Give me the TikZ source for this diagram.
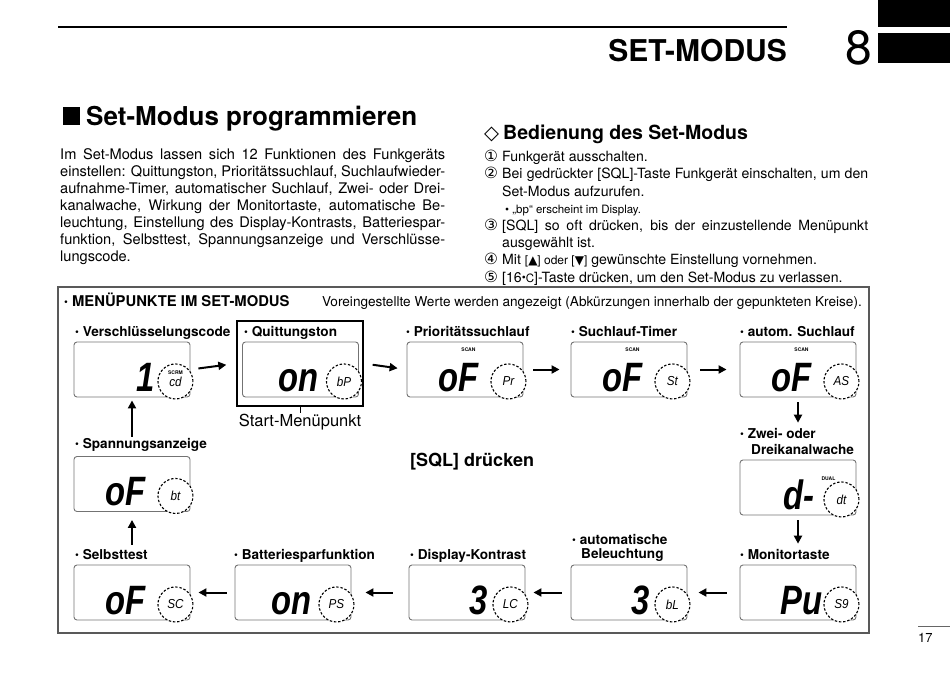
\documentclass[tikz,border=0pt]{standalone}
\usepackage{fontspec}
\usepackage{graphicx}
\setmainfont{TeX Gyre Heros}
\newfontfamily\djv{DejaVu Sans}
\newfontfamily\lcdf{Liberation Sans}
\usetikzlibrary{arrows.meta,calc}
\newcommand\bul{\raisebox{0.5pt}{\fontsize{11}{11}\selectfont•}}
\newcommand\cnum[1]{\makebox[18pt][l]{\fontsize{15.5}{15}\djv #1}}
\newcommand\lcdp[5]{%
  \node[lcd] (#1) at #2 {};
  \node[dcirc] (#1c) at ([xshift=-15pt,yshift=16pt]#1.south east) {\scalebox{0.9}[1]{#5}};
  \node[big] (#1t) at ([xshift=-#4,yshift=6pt]#1.south east) {\scalebox{0.8}[1]{#3}};
}
\begin{document}
\begin{tikzpicture}[x=1pt,y=-1pt,
  lcd/.style={draw=black!55, line width=0.9pt, rounded corners=3pt, minimum width=116pt, minimum height=55pt, inner sep=0pt},
  dcirc/.style={circle, draw=black, fill=white, dash pattern=on 2.4pt off 1.8pt, line width=1.1pt, minimum size=35pt, inner sep=0pt, font=\fontsize{13}{13}\lcdf\itshape},
  arr/.style={line width=2pt, -{Triangle[length=8pt,width=8pt]}},
  lab/.style={font=\fontsize{13.6}{15}\selectfont\bfseries, anchor=base west, inner sep=0pt},
  big/.style={font=\fontsize{41}{41}\lcdf\bfseries\itshape, anchor=base east, inner sep=0pt},
  tiny/.style={font=\fontsize{5}{5}\selectfont\bfseries, inner sep=0pt},
]
\useasboundingbox (0,0) rectangle (950,672);

% page header
\draw[line width=1.5pt] (58,27) -- (787,27);
\node[anchor=base east, inner sep=0pt, font=\fontsize{30}{30}\selectfont\bfseries] (hd) at (787,61) {SET-MODUS};
\node[anchor=base west, inner sep=0pt, font=\fontsize{48}{48}\selectfont] (eight) at (845,64) {8};
\fill (878,0) rectangle (950,27);
\fill (878,33) rectangle (950,63);

% title and paragraph
\fill (63,107) rectangle (80,125);
\node[anchor=base west, inner sep=0pt, font=\fontsize{26}{26}\selectfont\bfseries] (title) at (86,125) {Set-Modus programmieren};
\node[anchor=north west, align=left, inner sep=0pt, font=\fontsize{14.6}{17}\selectfont] (para) at (60,148) {%
\makebox[385pt][s]{Im Set-Modus lassen sich 12 Funktionen des Funkgeräts}\\
\makebox[385pt][s]{einstellen: Quittungston, Prioritätssuchlauf, Suchlaufwieder-}\\
\makebox[385pt][s]{aufnahme-Timer, automatischer Suchlauf, Zwei- oder Drei-}\\
\makebox[385pt][s]{kanalwache, Wirkung der Monitortaste, automatische Be-}\\
\makebox[385pt][s]{leuchtung, Einstellung des Display-Kontrasts, Batteriespar-}\\
\makebox[385pt][s]{funktion, Selbsttest, Spannungsanzeige und Verschlüsse-}\\
lungscode.};

% right column
\node[anchor=base west, inner sep=0pt, font=\fontsize{19.5}{19.5}\selectfont\bfseries] (bed) at (484,139) {{\mdseries\djv ◇}\hspace{4pt}Bedienung des Set-Modus};
\node[anchor=north west, align=left, inner sep=0pt, font=\fontsize{14.1}{17.2}\selectfont] (steps) at (484,150) {%
\cnum{①}Funkgerät ausschalten.\\
\cnum{②}\makebox[366pt][s]{Bei gedrückter [SQL]-Taste Funkgerät einschalten, um den}\\
\hspace*{18pt}Set-Modus aufzurufen.\\
\hspace*{21pt}{\fontsize{11.5}{17.2}\selectfont • „bp“ erscheint im Display.}\\
\cnum{③}\makebox[366pt][s]{[SQL] so oft drücken, bis der einzustellende Menüpunkt}\\
\hspace*{18pt}ausgewählt ist.\\
\cnum{④}Mit {\fontsize{12}{17.2}\selectfont[{\djv▲}] oder [{\djv▼}]} gewünschte Einstellung vornehmen.\\
\cnum{⑤}[16{\fontsize{11.5}{17.2}\selectfont\raisebox{0.5pt}{•}C}]-Taste drücken, um den Set-Modus zu verlassen.};

% menu frame
\draw[draw=black!65, line width=1.8pt] (58,287) rectangle (869,633);
\node[anchor=base west, inner sep=0pt, font=\fontsize{14.8}{15}\selectfont\bfseries] (mh) at (64,306) {\bul\ MENÜPUNKTE IM SET-MODUS};
\node[anchor=base east, inner sep=0pt, font=\fontsize{13.6}{14}\selectfont] (mh2) at (862,306) {Voreingestellte Werte werden angezeigt (Abkürzungen innerhalb der gepunkteten Kreise).};

% start frame
\node[draw=black, line width=1.5pt, minimum width=126pt, minimum height=85pt, inner sep=0pt] (Bf) at (300,363.5) {};

% LCD panels
\lcdp{A}{(132,369.5)}{1}{36pt}{cd}
\lcdp{B}{(300.5,369.5)}{on}{40pt}{bP}
\lcdp{C}{(465,369.5)}{oF}{45pt}{Pr}
\lcdp{D}{(629,369.5)}{oF}{45pt}{St}
\lcdp{E}{(798,369.5)}{oF}{45pt}{AS}
\lcdp{F}{(132,484)}{oF}{45pt}{bt}
\lcdp{G}{(798,487.5)}{d-}{42pt}{dt}
\lcdp{H}{(132,592.5)}{oF}{45pt}{SC}
\lcdp{I}{(293,592.5)}{on}{40pt}{PS}
\lcdp{J}{(467,592.5)}{3}{38pt}{LC}
\lcdp{K}{(629,592.5)}{3}{38pt}{bL}
\lcdp{L}{(798,592.5)}{Pu}{34pt}{S9}

\node[tiny] (Ascrm) at ([yshift=9pt]Ac) {SCRM};
\node[tiny] (Cscan) at ([xshift=-55pt,yshift=-8pt]C.north east) {SCAN};
\node[tiny] (Dscan) at ([xshift=-55pt,yshift=-8pt]D.north east) {SCAN};
\node[tiny] (Escan) at ([xshift=-55pt,yshift=-8pt]E.north east) {SCAN};
\node[tiny] (Gdual) at ([xshift=-13pt,yshift=3pt]Gc.north) {DUAL};

% labels
\node[lab] (lA) at (75,336) {\bul\ Verschlüsselungscode};
\node[lab] (lB) at (244,336) {\bul\ Quittungston};
\node[lab] (lC) at (406,336) {\bul\ Prioritätssuchlauf};
\node[lab] (lD) at (571,336) {\bul\ Suchlauf-Timer};
\node[lab] (lE) at (740,336) {\bul\ autom. Suchlauf};
\node[lab] (lF) at (75,448) {\bul\ Spannungsanzeige};
\node[lab] (lG) at (740,438) {\bul\ Zwei- oder};
\node[lab] (lG2) at (751,454) {Dreikanalwache};
\node[lab] (lH) at (75,559) {\bul\ Selbsttest};
\node[lab] (lI) at (234,559) {\bul\ Batteriesparfunktion};
\node[lab] (lJ) at (410,559) {\bul\ Display-Kontrast};
\node[lab] (lK) at (572,544) {\bul\ automatische};
\node[lab] (lK2) at (581,558) {Beleuchtung};
\node[lab] (lL) at (740,559) {\bul\ Monitortaste};

\node[anchor=base, inner sep=0pt, font=\fontsize{16.5}{17}\selectfont] (start) at (300,426) {Start-Menüpunkt};
\draw[line width=1pt] (Bf.south) -- (start.north);
\node[anchor=base west, inner sep=0pt, font=\fontsize{18}{18}\selectfont\bfseries] (sql) at (410,466) {[SQL] drücken};

% arrows
\draw[arr, shorten <=8pt, shorten >=10pt] (A.east) -- (Bf.west);
\draw[arr, shorten <=9pt, shorten >=9pt] (Bf.east) -- (C.west);
\draw[arr, shorten <=10pt, shorten >=11pt] (C.east) -- (D.west);
\draw[arr, shorten <=13pt, shorten >=13pt] (D.east) -- (E.west);
\draw[arr, shorten <=5pt, shorten >=5pt] (E.south) -- (E.south |- lG.north);
\draw[arr, shorten <=5pt, shorten >=5pt] (G.south) -- (G.south |- lL.north);
\draw[arr, shorten <=13pt, shorten >=11pt] (L.west) -- (K.east);
\draw[arr, shorten <=9pt, shorten >=8pt] (K.west) -- (J.east);
\draw[arr, shorten <=16pt, shorten >=14pt] (J.west) -- (I.east);
\draw[arr, shorten <=8pt, shorten >=8pt] (I.west) -- (H.east);
\draw[arr, shorten <=4pt, shorten >=8pt] (H.north |- lH.north) -- (F.south);
\draw[arr, shorten <=1pt, shorten >=3pt] (F.north |- lF.north) -- (A.south);

% page number
\draw[line width=0.6pt, black!60] (918,626) -- (950,626);
\node[anchor=base west, inner sep=0pt, font=\fontsize{13}{13}\selectfont] (pg) at (918,642) {17};
\end{tikzpicture}
\end{document}
